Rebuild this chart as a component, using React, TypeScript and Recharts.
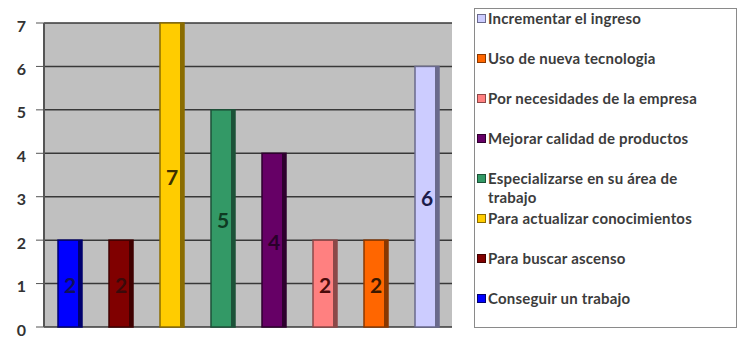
import React from 'react';
import { BarChart, Bar, XAxis, YAxis, CartesianGrid, Cell, LabelList, Legend } from 'recharts';

// Reasons, in the order the bars appear from left to right
const categories = [
  'Conseguir un trabajo',
  'Para buscar ascenso',
  'Para actualizar conocimientos',
  'Especializarse en su área de trabajo',
  'Mejorar calidad de productos',
  'Por necesidades de la empresa',
  'Uso de nueva tecnologia',
  'Incrementar el ingreso',
];
// Legend text, with the line break used in the key box
const legendLabels = [
  'Conseguir un trabajo',
  'Para buscar ascenso',
  'Para actualizar conocimientos',
  'Especializarse en su área de\ntrabajo',
  'Mejorar calidad de productos',
  'Por necesidades de la empresa',
  'Uso de nueva tecnologia',
  'Incrementar el ingreso',
];
const counts = [2, 2, 7, 5, 4, 2, 2, 6];
const yTicks = [0, 1, 2, 3, 4, 5, 6, 7];

// Palette per category
const fillColors = ['#0000FF', '#800000', '#FFCC00', '#339966', '#660066', '#FF8080', '#FF6600', '#CCCCFF'];
const edgeColors = ['#00006e', '#3f0000', '#8a6c00', '#1c5238', '#2e002e', '#8c4848', '#8a3800', '#6a6a8c'];
const labelColors = ['#10105a', '#3a0a0a', '#3d3000', '#0e3a22', '#2a002a', '#4a0a0a', '#3a1800', '#1c1c4a'];

const data = categories.map((name, i) => ({ name, value: counts[i] }));
// Boundaries between categories for the bottom tick marks
const edgeTicks = [...categories.map((_, i) => i), categories.length];

const FONT = 'Lato, "Open Sans", sans-serif';

const Bar3D = (props: any) => {
  const { x, y, width, height, index } = props;
  if (height <= 0) return null;
  const strip = 4;
  return (
    <g>
      <rect x={x} y={y} width={width} height={height} fill={fillColors[index]} stroke={edgeColors[index]} strokeWidth={1.5} />
      <rect x={x + width - strip} y={y} width={strip} height={height} fill={edgeColors[index]} />
    </g>
  );
};

const renderValue = (props: any) => {
  const vb = props.viewBox && props.viewBox.width != null ? props.viewBox : props;
  const { x, y, width, height } = vb;
  const { value, index } = props;
  return (
    <text
      x={x + width / 2}
      y={y + height / 2 + 1}
      textAnchor="middle"
      dominantBaseline="central"
      fill={labelColors[index]}
      fontSize={21}
      fontWeight="bold"
      fontFamily={FONT}
    >
      {value}
    </text>
  );
};

const YTick = (props: any) => {
  const { x, y, payload } = props;
  return (
    <text x={x} y={y + 2} textAnchor="end" dominantBaseline="central" fontSize={16} fontWeight="bold" fill="#333333" fontFamily={FONT}>
      {payload.value}
    </text>
  );
};

const renderLegend = () => {
  const rows = legendLabels.map((name, i) => ({ name, i })).reverse();
  return (
    <div
      style={{
        position: 'relative',
        width: '100%',
        height: '100%',
        boxSizing: 'border-box',
        border: '1px solid #8a8a8a',
        background: '#ffffff',
        fontFamily: FONT,
      }}
    >
      {rows.map((r, k) => (
        <div
          key={r.name}
          style={{
            position: 'absolute',
            left: 2,
            top: 0 + k * 40,
            width: 258,
            display: 'flex',
            alignItems: 'flex-start',
          }}
        >
          <span
            style={{
              display: 'inline-block',
              width: 7,
              height: 7,
              marginTop: 5,
              marginRight: 2,
              background: fillColors[r.i],
              border: `1px solid ${edgeColors[r.i]}`,
              flex: 'none',
            }}
          />
          <span
            style={{
              fontSize: 15,
              letterSpacing: 0.2,
              lineHeight: '19px',
              fontWeight: 'bold',
              color: '#3c3c3c',
              whiteSpace: 'pre-line',
              width: 248,
            }}
          >
            {r.name}
          </span>
        </div>
      ))}
    </div>
  );
};

export default function App() {
  return (
    <div style={{ position: 'absolute', left: 0, top: 0, width: 738, height: 339, background: '#ffffff' }}>
      <BarChart width={738} height={339} data={data} margin={{ top: 23, right: 23, bottom: 0, left: 0 }}>
        <CartesianGrid vertical={false} fill="#C0C0C0" stroke="#383838" strokeWidth={1.5} />
        <XAxis xAxisId="cat" dataKey="name" hide />
        <XAxis
          xAxisId="edge"
          type="number"
          domain={[0, categories.length]}
          ticks={edgeTicks}
          height={12}
          tickSize={4}
          tick={() => <g />}
          stroke="#555555"
          axisLine={{ stroke: '#555555', strokeWidth: 2 }}
          allowDecimals={false}
        />
        <YAxis
          domain={[0, 7]}
          ticks={yTicks}
          width={44}
          tickSize={8}
          tickMargin={10}
          interval={0}
          stroke="#555555"
          axisLine={{ stroke: '#555555', strokeWidth: 2 }}
          tick={YTick}
        />
        <Legend
          layout="vertical"
          align="right"
          verticalAlign="top"
          wrapperStyle={{ left: 474, top: 8, width: 263, height: 320 }}
          content={renderLegend}
        />
        <Bar xAxisId="cat" dataKey="value" barSize={24} shape={Bar3D} isAnimationActive={false}>
          {data.map((d, i) => (
            <Cell key={d.name} fill={fillColors[i]} />
          ))}
          <LabelList dataKey="value" position="center" content={renderValue} />
        </Bar>
      </BarChart>
    </div>
  );
}
